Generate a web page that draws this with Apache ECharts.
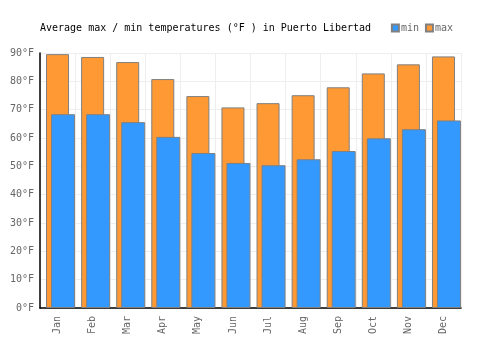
<!DOCTYPE html>
<html>
<head>
<meta charset="utf-8">
<script src="https://cdn.jsdelivr.net/npm/echarts@6/dist/echarts.min.js"></script>
<style>
  html, body { margin: 0; padding: 0; background: #fff; }
  #chart { width: 500px; height: 350px; }
</style>
</head>
<body>
<div id="chart"></div>
<script>
const months = ['Jan', 'Feb', 'Mar', 'Apr', 'May', 'Jun', 'Jul', 'Aug', 'Sep', 'Oct', 'Nov', 'Dec'];
const maxTemps = [89.6, 88.6, 86.8, 80.8, 74.8, 70.8, 72.3, 75.1, 77.9, 82.8, 86.0, 88.8];
const minTemps = [68.4, 68.4, 65.6, 60.4, 54.7, 51.2, 50.4, 52.5, 55.4, 59.9, 63.1, 66.2];

const font = 'DejaVu Sans Mono';
const chart = echarts.init(document.getElementById('chart'));

chart.setOption({
  animation: false,
  title: {
    text: 'Average max / min temperatures (°F ) in Puerto Libertad',
    left: 35,
    top: 18,
    textStyle: { fontFamily: font, fontSize: 10, fontWeight: 'normal', color: '#000' }
  },
  legend: {
    right: 42,
    top: 18,
    itemWidth: 7,
    itemHeight: 7,
    itemGap: 6,
    icon: 'rect',
    textStyle: { fontFamily: font, fontSize: 10, color: '#666', padding: [0, 0, 0, -3] },
    data: ['min', 'max']
  },
  grid: [
    { left: 40, right: 39, top: 53, bottom: 42 },
    { left: 45.5, right: 33.5, top: 53, bottom: 42 }
  ],
  xAxis: [
    {
      type: 'category',
      gridIndex: 0,
      data: months,
      axisLine: { lineStyle: { color: '#000', width: 1.5 } },
      axisTick: { show: false },
      axisLabel: { rotate: 90, margin: 8, fontFamily: font, fontSize: 10, color: '#666' },
      splitLine: { show: true, lineStyle: { color: '#eee' } }
    },
    { type: 'category', gridIndex: 1, data: months, show: false }
  ],
  yAxis: [
    {
      type: 'value',
      gridIndex: 0,
      min: 0,
      max: 90,
      interval: 10,
      axisLine: { show: true, lineStyle: { color: '#000', width: 1.5 } },
      axisTick: { show: false },
      axisLabel: { formatter: '{value}°F', margin: 6, fontFamily: font, fontSize: 10, color: '#666' },
      splitLine: { lineStyle: { color: '#eee' } }
    },
    { type: 'value', gridIndex: 1, min: 0, max: 90, show: false, splitLine: { show: false } }
  ],
  series: [
    {
      name: 'max',
      type: 'bar',
      xAxisIndex: 0,
      yAxisIndex: 0,
      barWidth: 23,
      data: maxTemps,
      itemStyle: { color: '#ff9933', borderColor: '#808080', borderWidth: 1 }
    },
    {
      name: 'min',
      type: 'bar',
      xAxisIndex: 1,
      yAxisIndex: 1,
      barWidth: 24,
      data: minTemps,
      itemStyle: { color: '#3399ff', borderColor: '#808080', borderWidth: 1 }
    }
  ]
});
</script>
</body>
</html>
